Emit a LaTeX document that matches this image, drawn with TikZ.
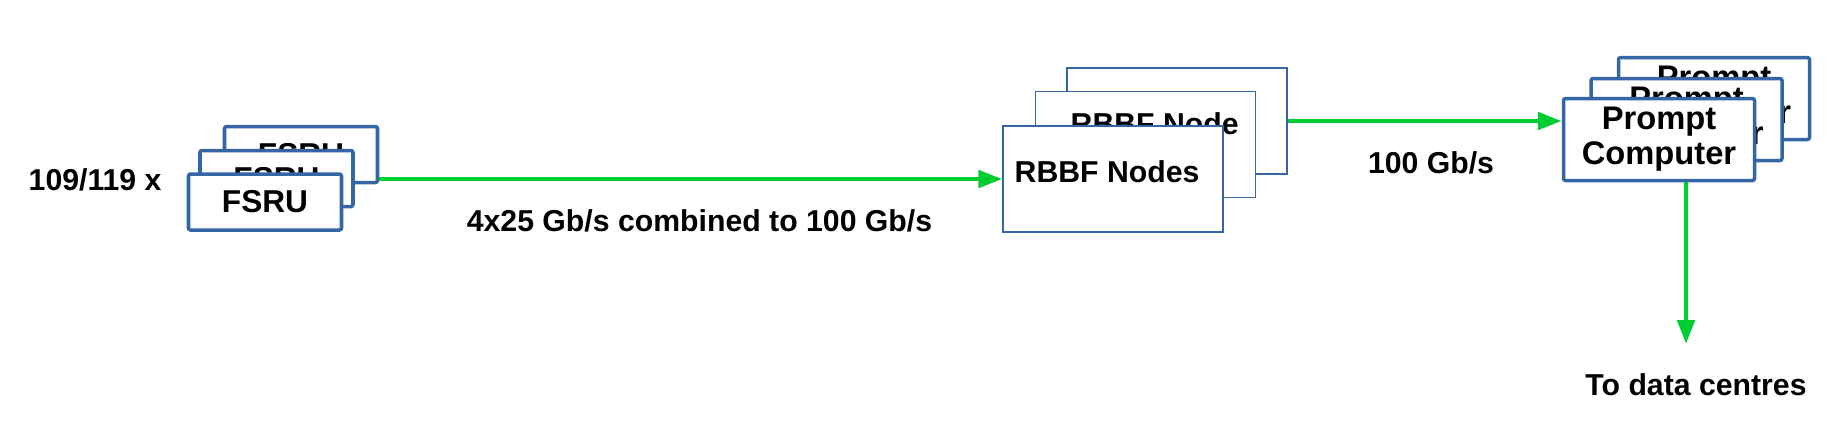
\documentclass[tikz,border=0pt]{standalone}
\usepackage{fontspec}
\setmainfont{Liberation Sans}
\usetikzlibrary{arrows.meta}

\begin{document}
\begin{tikzpicture}[
        txt/.style = {font = \fontsize{8.6pt}{8.5pt}\selectfont\bfseries, inner sep = 0pt},
        thickBox/.style = {rectangle, draw = boxBlue, line width = 1pt, fill = white, rounded corners = 0.6pt, inner sep = 0pt, align = center},
        fsruBox/.style = {thickBox, font = \fontsize{9pt}{9pt}\selectfont\bfseries, minimum width = 1.53cm, minimum height = 0.56cm},
        promptBox/.style = {thickBox, font = \fontsize{9.3pt}{10pt}\selectfont\bfseries, minimum width = 1.91cm, minimum height = 0.82cm},
        thinBox/.style = {rectangle, draw = boxBlue, line width = 0.35pt, fill = white, inner sep = 0pt, minimum width = 2.2cm, minimum height = 1.06cm},
        link/.style = {draw = linkGreen, line width = 1.4pt, ->, >={Triangle[length = 2.4mm, width = 1.7mm]}}
    ]
            \definecolor{boxBlue}{RGB}{52,101,164}
            \definecolor{linkGreen}{RGB}{0,204,51}
            \useasboundingbox (0,0) rectangle (18.27,4.26);

            % FSRU stack
            \node [txt, anchor = base west] (count) at (0.28,2.36) {109/119 x};
            \node [fsruBox] (fsruA) at (3.01,2.715) {FSRU};
            \node [fsruBox] (fsruB) at (2.765,2.475) {FSRU};
            \node [fsruBox] (fsruC) at (2.65,2.24) {FSRU};

            % RBBF stack
            \node [thinBox] (rbbfA) at (11.77,3.05) {};
            \node [thinBox] (rbbfB) at (11.455,2.815) {};
            \node [txt, anchor = base west] (rbbfBtext) at (10.70,2.92) {RBBF Node};
            \node [thinBox] (rbbfC) at (11.13,2.47) {};
            \node [txt, anchor = base west] (rbbfCtext) at (10.14,2.44) {RBBF Nodes};

            % prompt stack
            \node [promptBox] (promptA) at (17.14,3.275) {Prompt\\Computer};
            \node [promptBox] (promptB) at (16.865,3.065) {Prompt\\Computer};
            \node [promptBox] (promptC) at (16.59,2.865) {Prompt\\Computer};

            \coordinate (dc) at (16.86,0.82);

            \draw [link] (fsruA.east |- rbbfC.west) -- (rbbfC.west);
            \draw [link] (rbbfA.east) -- (rbbfA.east -| promptC.west);
            \draw [link] (promptC.south -| dc) -- (dc);

            \node [txt, anchor = base] (rate1) at (6.995,1.95) {4x25 Gb/s combined to 100 Gb/s};
            \node [txt, anchor = base] (rate2) at (14.31,2.53) {100 Gb/s};
            \node [txt, anchor = base] (todc) at (16.96,0.31) {To data centres};
\end{tikzpicture}
\end{document}
